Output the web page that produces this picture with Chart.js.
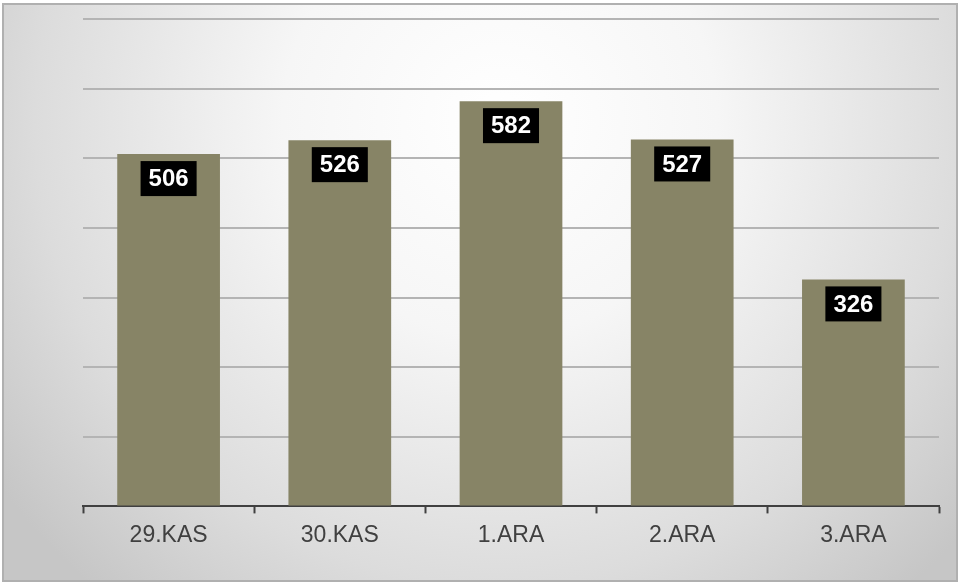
<!DOCTYPE html>
<html>
<head>
<meta charset="utf-8">
<script src="https://cdn.jsdelivr.net/npm/chart.js@4"></script>
<style>
html,body{margin:0;padding:0;background:#fff;}
#wrap{width:960px;height:585px;position:relative;}
</style>
</head>
<body>
<div id="wrap"><canvas id="c" width="960" height="585"></canvas></div>
<script>
const categories = ['29.KAS', '30.KAS', '1.ARA', '2.ARA', '3.ARA'];
const values = [506, 526, 582, 527, 326];
const yMin = 0, yMax = 700, yStep = 100;

const bgPlugin = {
  id: 'bg',
  beforeDraw(chart) {
    const ctx = chart.ctx;
    const w = chart.width, h = chart.height;
    ctx.save();
    ctx.fillStyle = '#ffffff';
    ctx.fillRect(0, 0, w, h);
    const g = ctx.createRadialGradient(500, 120, 0, 500, 120, 620);
    g.addColorStop(0, '#ffffff');
    g.addColorStop(0.35, '#f6f6f6');
    g.addColorStop(0.75, '#dcdcdc');
    g.addColorStop(1, '#c6c6c6');
    ctx.fillStyle = g;
    ctx.fillRect(3, 4, w - 6, h - 8);
    ctx.strokeStyle = '#b0b0b0';
    ctx.lineWidth = 2;
    ctx.strokeRect(3, 4, w - 6, h - 8);
    ctx.restore();
  }
};

const labelPlugin = {
  id: 'vlabels',
  afterDatasetsDraw(chart) {
    const ctx = chart.ctx;
    const meta = chart.getDatasetMeta(0);
    ctx.save();
    ctx.font = 'bold 24px "Liberation Sans", Arial, sans-serif';
    ctx.textAlign = 'center';
    ctx.textBaseline = 'middle';
    meta.data.forEach((bar, i) => {
      const txt = String(chart.data.datasets[0].data[i]);
      const tw = ctx.measureText(txt).width;
      const bw = tw + 16, bh = 35;
      const cx = bar.x, top = bar.y + 7;
      ctx.fillStyle = '#000000';
      ctx.fillRect(cx - bw / 2, top, bw, bh);
      ctx.fillStyle = '#ffffff';
      ctx.fillText(txt, cx, top + bh / 2 + 1);
    });
    ctx.restore();
  }
};

new Chart(document.getElementById('c'), {
  type: 'bar',
  data: {
    labels: categories,
    datasets: [{
      data: values,
      backgroundColor: '#878466',
      borderWidth: 0,
      categoryPercentage: 0.6,
      barPercentage: 1.0
    }]
  },
  options: {
    responsive: false,
    animation: false,
    devicePixelRatio: 1,
    layout: { padding: { left: 83, right: 21, top: 19, bottom: 28 } },
    plugins: { legend: { display: false }, tooltip: { enabled: false } },
    scales: {
      x: {
        grid: {
          offset: true,
          drawOnChartArea: false,
          drawTicks: true,
          tickLength: 7,
          tickColor: '#404040',
          tickWidth: 2
        },
        border: { display: true, color: '#404040', width: 2 },
        ticks: {
          color: '#404040',
          padding: 8,
          font: { family: '"Liberation Sans", Arial, sans-serif', size: 23 }
        }
      },
      y: {
        min: yMin, max: yMax,
        ticks: { display: false, stepSize: yStep },
        grid: { color: '#b4b4b4', lineWidth: 2, drawTicks: false },
        border: { display: false }
      }
    }
  },
  plugins: [bgPlugin, labelPlugin]
});
</script>
</body>
</html>
